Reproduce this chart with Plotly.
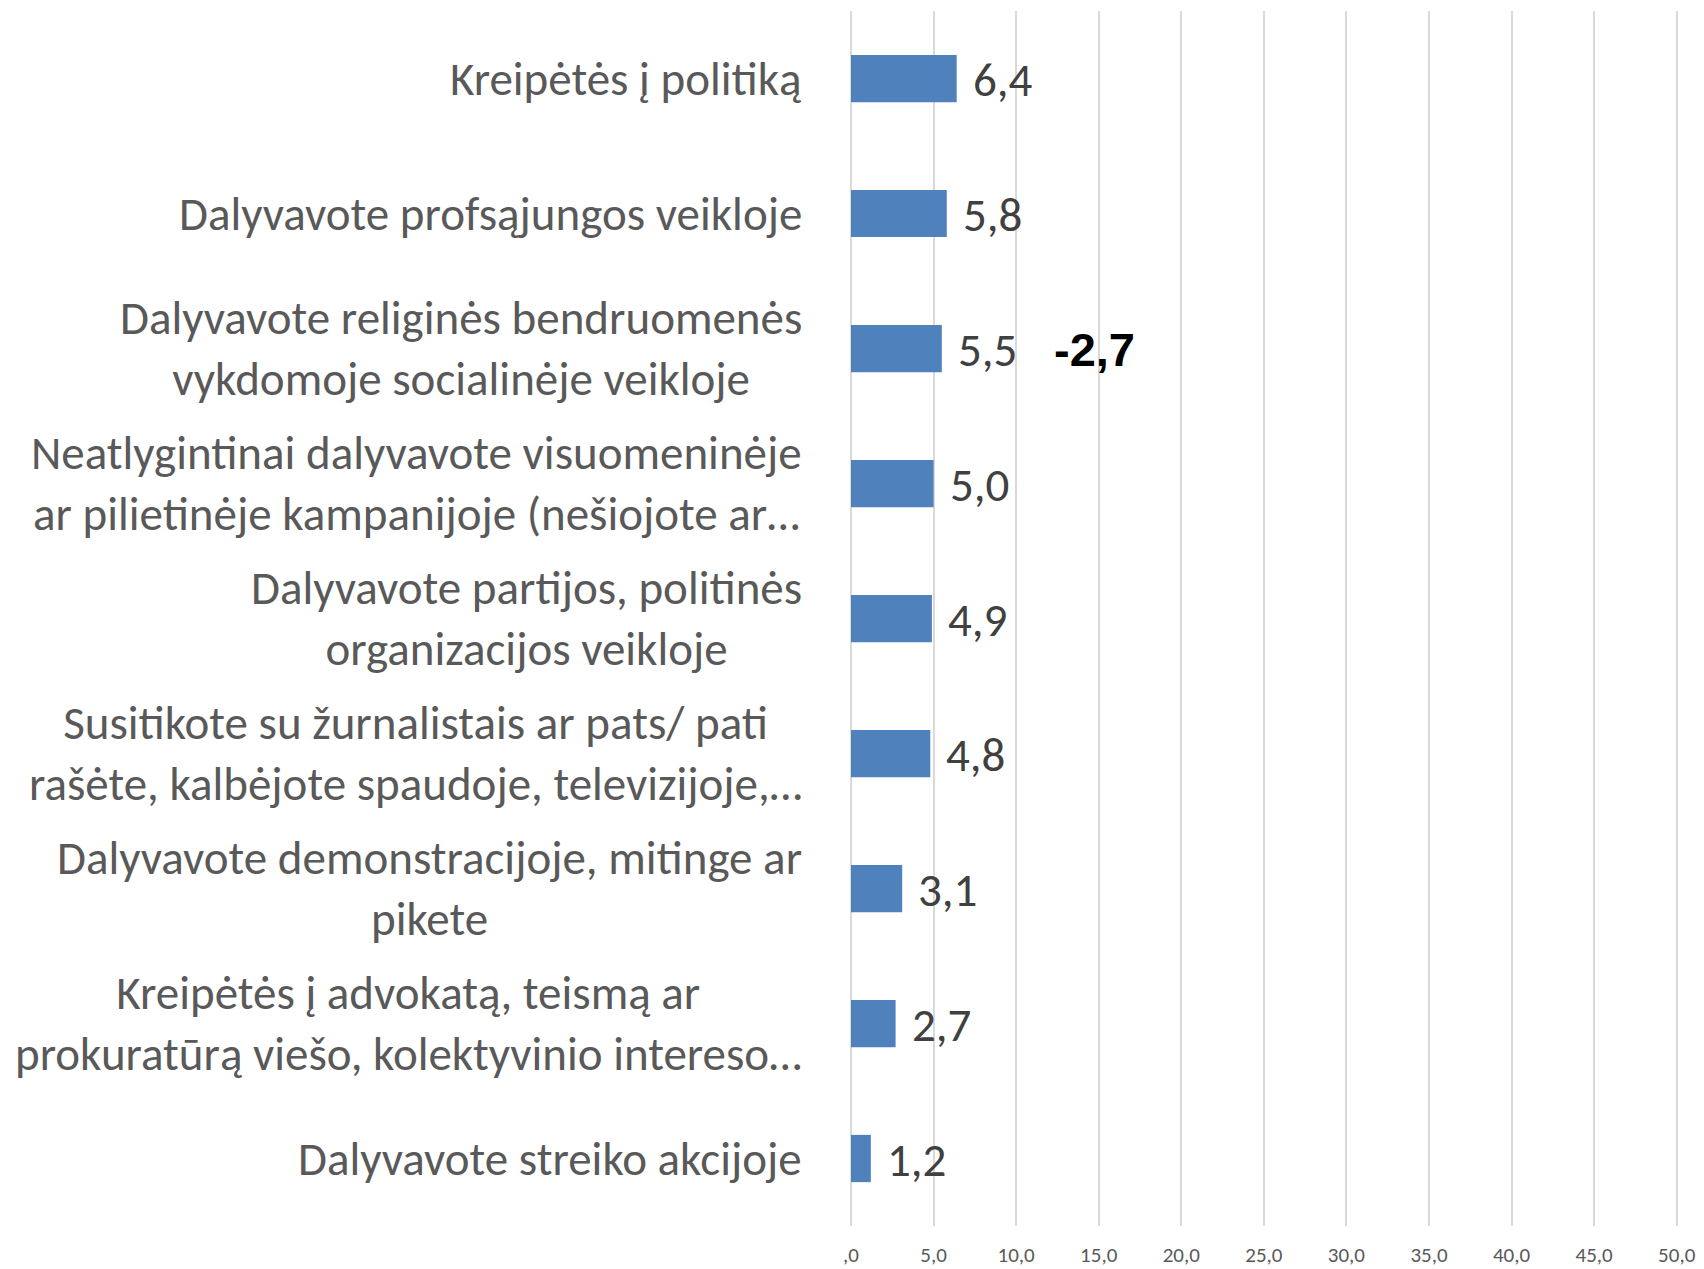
import plotly.graph_objects as go

categories = [
    "Kreipėtės į politiką",
    "Dalyvavote profsąjungos veikloje",
    "Dalyvavote religinės bendruomenės<br>vykdomoje socialinėje veikloje",
    "Neatlygintinai dalyvavote visuomeninėje<br>ar pilietinėje kampanijoje (nešiojote ar…",
    "Dalyvavote partijos, politinės<br>organizacijos veikloje",
    "Susitikote su žurnalistais ar pats/ pati<br>rašėte, kalbėjote spaudoje, televizijoje,…",
    "Dalyvavote demonstracijoje, mitinge ar<br>pikete",
    "Kreipėtės į advokatą, teismą ar<br>prokuratūrą viešo, kolektyvinio intereso…",
    "Dalyvavote streiko akcijoje",
]
values = [6.4, 5.8, 5.5, 5.0, 4.9, 4.8, 3.1, 2.7, 1.2]
tick_vals = [0, 5, 10, 15, 20, 25, 30, 35, 40, 45, 50]
tick_text = [",0", "5,0", "10,0", "15,0", "20,0", "25,0", "30,0", "35,0", "40,0", "45,0", "50,0"]
change_label = "-2,7"
change_category = categories[2]

FONT = "Carlito, Calibri, Lato, sans-serif"
ids = list(range(len(categories)))

fig = go.Figure()
fig.add_trace(go.Bar(
    x=values, y=ids, orientation="h",
    marker=dict(color="#4F81BD", line=dict(color="#4F81BD", width=0)),
    width=0.35, hoverinfo="skip",
))

annotations = []
for i, c in enumerate(categories):
    annotations.append(dict(
        x=0, xref="paper", y=i, yref="y", text=c, showarrow=False,
        xanchor="right", yanchor="middle", align="center", xshift=-47,
        font=dict(family=FONT, size=47, color="#595959"),
    ))
for i, v in enumerate(values):
    annotations.append(dict(
        x=v, xref="x", y=i, yref="y", text=f"{v:.1f}".replace(".", ","),
        showarrow=False, xanchor="left", yanchor="middle",
        xshift=14, yshift=-1,
        font=dict(family=FONT, size=47, color="#404040"),
    ))
annotations.append(dict(
    x=12.2, xref="x", y=categories.index(change_category), yref="y",
    text="<b>" + change_label + "</b>", showarrow=False,
    xanchor="left", yanchor="middle", yshift=-1,
    font=dict(family="Liberation Sans, Arial, sans-serif", size=47, color="#000000"),
))

fig.update_layout(
    width=1696, height=1261,
    margin=dict(l=843, r=26, t=3, b=43, autoexpand=False),
    plot_bgcolor="white", paper_bgcolor="white",
    showlegend=False,
    annotations=annotations,
    xaxis=dict(
        range=[0, 50.08], tickvals=tick_vals, ticktext=tick_text,
        showgrid=True, gridcolor="#D9D9D9", gridwidth=2,
        zeroline=True, zerolinecolor="#D9D9D9", zerolinewidth=2,
        showline=False, ticks="", automargin=False,
        tickfont=dict(family=FONT, size=21, color="#595959"),
        ticklabelstandoff=14, ticklabeloverflow="allow", fixedrange=True,
    ),
    yaxis=dict(
        range=[len(categories) - 0.5, -0.5], automargin=False,
        showticklabels=False, showgrid=False, zeroline=False, ticks="",
        fixedrange=True,
    ),
)

fig.write_html("out.html")
